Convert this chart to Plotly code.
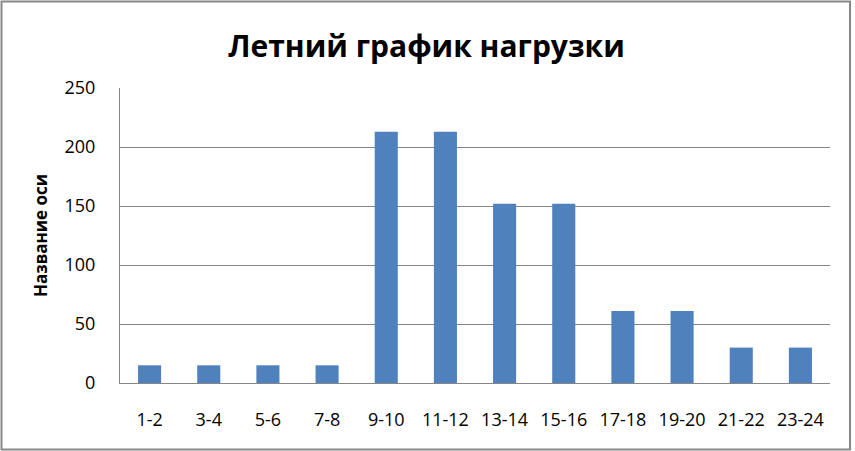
import plotly.graph_objects as go

categories = ["1-2", "3-4", "5-6", "7-8", "9-10", "11-12", "13-14", "15-16",
              "17-18", "19-20", "21-22", "23-24"]
values = [15, 15, 15, 15, 213, 213, 152, 152, 61, 61, 30, 30]
y_ticks = [0, 50, 100, 150, 200, 250]

title_text = "Летний график нагрузки"
y_title = "Название оси"

FONT = "Open Sans"
GRID = "#868686"

fig = go.Figure(
    go.Bar(x=categories, y=values, marker=dict(color="#4F81BD", line=dict(width=0)))
)

fig.update_layout(
    width=855,
    height=451,
    margin=dict(l=120, r=25, t=88, b=68),
    paper_bgcolor="white",
    plot_bgcolor="white",
    bargap=0.61,
    showlegend=False,
    font=dict(family=FONT, color="#000000", size=18),
    title=dict(
        text=title_text,
        x=0.4988,
        xanchor="center",
        y=1 - 46 / 451,
        yanchor="middle",
        font=dict(family=FONT, size=30, color="#000000", weight="bold"),
    ),
    xaxis=dict(
        type="category",
        showgrid=False,
        showline=True,
        linecolor=GRID,
        linewidth=1,
        ticks="",
        ticklabelstandoff=20,
        tickfont=dict(size=18, family=FONT),
    ),
    yaxis=dict(
        range=[0, 250],
        tickvals=y_ticks,
        showgrid=True,
        gridcolor=GRID,
        gridwidth=1,
        showline=True,
        linecolor=GRID,
        linewidth=1,
        zeroline=False,
        ticks="",
        ticklabelstandoff=20,
        tickfont=dict(size=18, family=FONT),
        title=dict(text=y_title, standoff=12,
                   font=dict(size=17, family=FONT, weight="bold")),
    ),
    shapes=[
        dict(
            type="rect",
            xref="paper",
            yref="paper",
            x0=(1.5 - 120) / 710,
            x1=(850 - 120) / 710,
            y0=(383 - 449.5) / 295,
            y1=(383 - 1.5) / 295,
            line=dict(color="#888888", width=2),
            fillcolor="rgba(0,0,0,0)",
            layer="below",
        )
    ],
)

fig.write_html(
    "out.html",
    config={"displayModeBar": False},
    post_script="document.body.style.margin='0';document.body.style.overflow='hidden';",
)
